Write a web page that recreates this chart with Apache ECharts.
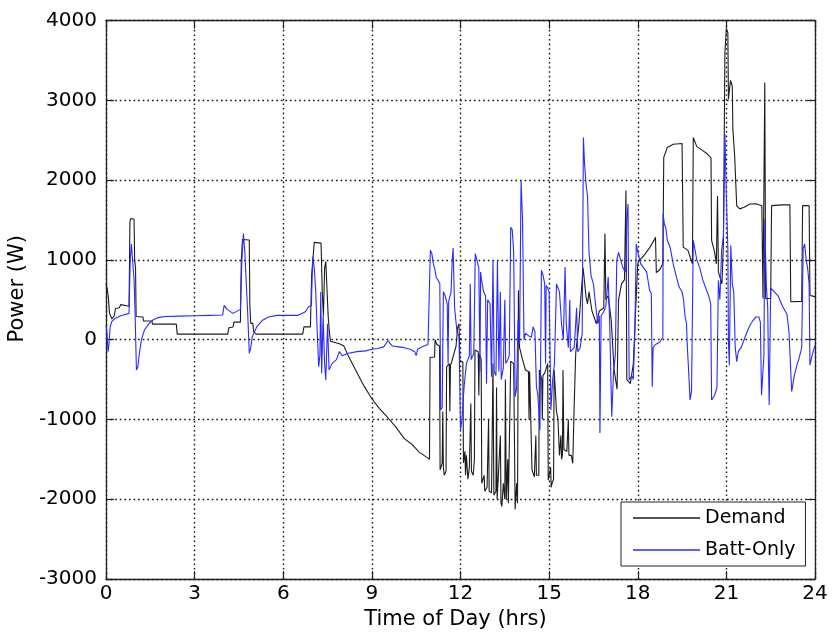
<!DOCTYPE html>
<html>
<head>
<meta charset="utf-8">
<script src="https://cdn.jsdelivr.net/npm/echarts@6/dist/echarts.min.js"></script>
<style>
html,body{margin:0;padding:0;background:#fff;}
#chart{width:839px;height:635px;}
</style>
</head>
<body>
<div id="chart"></div>
<script>
// ---- Data (time of day in hours, power in W) ----
const seriesNames = ['Demand', 'Batt-Only'];
const xTicks = [0, 3, 6, 9, 12, 15, 18, 21, 24];
const yTicks = [-3000, -2000, -1000, 0, 1000, 2000, 3000, 4000];

const demand = [
[0,700],[0.04,640],[0.08,530],[0.12,330],[0.2,260],[0.28,300],[0.32,390],[0.45,400],[0.5,440],[0.78,420],
[0.81,1480],[0.84,1520],[0.95,1510],[0.97,1000],[1.0,900],[1.02,290],[1.25,285],[1.27,235],[1.55,235],[1.58,195],
[2.38,195],[2.41,70],[4.12,70],[4.16,150],[4.3,160],[4.33,220],[4.55,220],[4.58,1000],[4.62,1255],[4.85,1250],
[4.87,420],[4.9,205],[4.97,205],[5.0,100],[5.08,70],[6.66,70],[6.7,160],[6.92,160],[6.96,800],[7.05,1220],
[7.28,1210],[7.32,600],[7.36,300],[7.4,900],[7.44,980],[7.48,980],[7.52,300],[7.56,100],[7.6,-20],[7.9,-50],
[8.05,-80],[8.2,-200],[8.45,-380],[8.7,-560],[9.0,-740],[9.25,-860],[9.5,-960],[9.8,-1090],[10.1,-1240],[10.35,-1310],
[10.6,-1410],[10.8,-1460],[10.95,-1500],[10.97,-220],[11.12,-220],[11.14,0],[11.2,-60],[11.29,-80],[11.31,-1630],[11.38,-1550],
[11.4,-900],[11.42,-1600],[11.45,-1700],[11.51,-1650],[11.53,-340],[11.62,-300],[11.64,-900],[11.66,-320],[11.7,-280],[11.85,-80],
[11.9,150],[11.95,200],[11.98,-260],[12.08,-280],[12.1,-1545],[12.15,-1400],[12.17,-1700],[12.2,-1450],[12.25,-1750],[12.3,-1600],
[12.35,-800],[12.37,-1650],[12.43,-1700],[12.47,-1500],[12.49,-130],[12.6,-150],[12.62,-700],[12.64,-180],[12.7,-250],[12.72,-1800],
[12.8,-1700],[12.82,-1900],[12.9,-1850],[12.95,-1000],[12.97,-1900],[13.05,-1920],[13.1,-300],[13.13,-1950],[13.2,-1900],[13.22,-600],
[13.24,-2000],[13.3,-2000],[13.35,-1200],[13.37,-2050],[13.4,-2090],[13.45,-1800],[13.5,-2000],[13.52,-500],[13.55,-2000],[13.6,-1500],
[13.62,-2050],[13.68,-2050],[13.7,-270],[13.8,-300],[13.85,-2125],[13.9,-1800],[13.93,-2050],[13.96,620],[14.0,-100],[14.1,-250],
[14.2,-380],[14.3,-400],[14.32,-1000],[14.34,-400],[14.4,-380],[14.42,-1630],[14.5,-1720],[14.55,-1200],[14.57,-1700],[14.65,-1700],
[14.67,-380],[14.75,-500],[14.77,-1000],[14.79,-450],[14.85,-420],[14.95,-300],[14.97,-1760],[15.05,-1600],[15.07,-1850],[15.1,-1800],
[15.15,-1750],[15.17,-380],[15.25,-900],[15.3,-1000],[15.35,-1450],[15.4,-1200],[15.42,-1500],[15.45,-1450],[15.47,-380],[15.5,-1380],
[15.6,-1400],[15.65,-1000],[15.67,-1450],[15.75,-1450],[15.8,-1550],[15.85,-800],[15.9,-170],[16.0,160],[16.1,660],[16.15,900],
[16.25,535],[16.3,450],[16.35,600],[16.45,360],[16.6,200],[16.7,360],[16.85,400],[16.89,1330],[16.92,500],[17.0,550],
[17.1,250],[17.2,-380],[17.3,-620],[17.35,500],[17.45,700],[17.55,750],[17.6,1870],[17.63,-500],[17.75,-550],[17.85,-300],
[17.92,300],[18.0,950],[18.05,995],[18.2,1050],[18.4,1150],[18.55,1245],[18.6,1285],[18.63,840],[18.75,880],[18.85,955],
[18.88,2285],[19.0,2410],[19.2,2450],[19.5,2460],[19.54,1160],[19.7,1120],[19.85,950],[19.88,2535],[20.0,2420],[20.2,2370],
[20.35,2330],[20.48,2280],[20.5,1245],[20.6,1100],[20.66,950],[20.7,1800],[20.73,850],[20.85,700],[20.9,1200],[20.95,3600],
[21.0,3900],[21.05,3850],[21.07,3015],[21.12,3000],[21.14,3250],[21.2,3180],[21.22,2640],[21.28,2305],[21.35,1680],[21.45,1640],
[21.6,1660],[21.8,1700],[22.0,1705],[22.2,1680],[22.24,515],[22.28,515],[22.3,3225],[22.33,515],[22.5,520],[22.53,1680],
[22.9,1690],[23.15,1690],[23.18,475],[23.55,480],[23.58,1680],[23.8,1680],[23.83,555],[24,540]
];

const battOnly = [
[0,180],[0.03,100],[0.07,-150],[0.1,-60],[0.14,160],[0.2,230],[0.3,265],[0.5,300],[0.78,330],[0.82,1000],
[0.86,1200],[0.9,1000],[0.95,745],[0.98,400],[1.03,-380],[1.08,-340],[1.13,-170],[1.2,0],[1.3,120],[1.45,200],
[1.6,250],[1.8,280],[2.0,290],[2.5,295],[3.0,300],[3.5,305],[3.95,310],[4.0,430],[4.1,380],[4.3,330],
[4.55,380],[4.6,1000],[4.65,1330],[4.7,1100],[4.75,700],[4.8,300],[4.85,-170],[4.9,-100],[4.95,35],[5.1,160],
[5.3,245],[5.5,285],[5.8,305],[6.5,305],[6.75,350],[6.85,410],[6.95,430],[7.0,1035],[7.05,900],[7.1,600],
[7.15,100],[7.2,-340],[7.24,-200],[7.27,600],[7.3,-420],[7.35,300],[7.4,-300],[7.44,-505],[7.5,200],[7.55,-380],
[7.65,-300],[7.8,-250],[7.9,-150],[8.0,-200],[8.2,-170],[8.5,-150],[8.8,-140],[9.0,-120],[9.2,-110],[9.4,-90],
[9.55,-10],[9.6,-40],[9.7,-80],[9.9,-90],[10.1,-100],[10.3,-120],[10.45,-150],[10.5,-200],[10.55,-120],[10.7,-90],
[10.9,-60],[10.96,-50],[10.98,1120],[11.03,1080],[11.08,950],[11.12,900],[11.18,780],[11.25,740],[11.3,700],[11.33,-880],
[11.38,-850],[11.42,600],[11.48,550],[11.55,450],[11.58,-300],[11.6,480],[11.68,600],[11.72,1000],[11.75,1150],[11.8,400],
[11.88,100],[11.95,35],[12.0,-1130],[12.05,-1000],[12.12,-600],[12.2,-300],[12.3,-200],[12.33,700],[12.36,-250],[12.45,-170],
[12.5,1080],[12.55,1100],[12.62,900],[12.66,-400],[12.68,850],[12.7,780],[12.78,600],[12.85,550],[12.88,-550],[12.92,500],
[13.0,450],[13.05,-465],[13.1,995],[13.14,-400],[13.2,-450],[13.25,995],[13.3,-400],[13.35,600],[13.38,-500],[13.45,-350],
[13.5,500],[13.53,-300],[13.6,-250],[13.65,-200],[13.7,1410],[13.75,1380],[13.8,1100],[13.85,-715],[13.9,-600],[13.95,250],
[14.0,-50],[14.05,1995],[14.1,1500],[14.15,0],[14.2,80],[14.3,50],[14.4,30],[14.46,160],[14.52,100],[14.57,-590],
[14.62,-700],[14.69,-1130],[14.74,870],[14.8,800],[14.85,700],[14.88,-300],[14.9,680],[14.95,650],[15.0,600],[15.06,-880],
[15.12,-500],[15.18,-300],[15.25,700],[15.3,650],[15.35,600],[15.42,200],[15.48,0],[15.54,910],[15.58,200],[15.65,-100],
[15.7,500],[15.72,-150],[15.75,-150],[15.85,-100],[15.93,400],[15.97,-150],[16.05,-100],[16.12,80],[16.16,2535],[16.2,2200],
[16.25,1950],[16.3,1800],[16.35,1100],[16.42,800],[16.5,700],[16.58,410],[16.65,200],[16.7,300],[16.72,-1170],[16.76,300],
[16.85,350],[16.92,420],[17.0,785],[17.05,200],[17.12,-965],[17.18,-400],[17.24,-200],[17.29,995],[17.35,1095],[17.42,1000],
[17.5,900],[17.58,850],[17.6,900],[17.63,1500],[17.67,1700],[17.71,-505],[17.8,-450],[17.85,-500],[17.9,80],[17.95,1200],
[18.0,1100],[18.1,950],[18.2,900],[18.3,850],[18.4,620],[18.46,580],[18.49,-590],[18.52,-100],[18.6,-60],[18.75,-30],
[18.85,30],[18.86,1575],[18.9,1450],[18.95,1400],[19.0,1250],[19.1,1150],[19.2,950],[19.3,800],[19.4,660],[19.5,600],
[19.55,500],[19.6,300],[19.65,200],[19.68,-100],[19.71,-300],[19.77,-755],[19.82,-650],[19.88,1245],[19.95,1100],[20.0,1000],
[20.1,900],[20.2,750],[20.3,650],[20.4,550],[20.47,450],[20.5,-755],[20.6,-700],[20.68,-600],[20.73,745],[20.78,500],
[20.84,1120],[20.9,1300],[20.95,2575],[21.0,1800],[21.05,1140],[21.07,-25],[21.1,-320],[21.15,1180],[21.2,700],[21.25,600],
[21.3,-100],[21.35,-275],[21.4,-150],[21.5,-100],[21.6,0],[21.7,100],[21.8,180],[21.9,240],[22.0,285],[22.1,285],
[22.15,220],[22.19,-695],[22.22,-720],[22.27,-200],[22.3,1515],[22.35,700],[22.4,400],[22.42,-200],[22.45,-820],[22.5,650],
[22.6,610],[22.75,550],[22.9,420],[23.05,320],[23.12,100],[23.21,-650],[23.3,-450],[23.4,-300],[23.45,-250],[23.55,-100],
[23.6,1140],[23.65,1200],[23.7,1000],[23.75,900],[23.8,700],[23.83,-320],[23.9,-200],[24,-70]
];

// ---- Chart ----
const FONT = 'DejaVu Sans';
const chart = echarts.init(document.getElementById('chart'), null, {renderer: 'canvas'});
const gridDash = [1.6, 3];
const plainNum = v => String(v);
const baseAxisX = {
  type: 'value', min: xTicks[0], max: xTicks[xTicks.length - 1], interval: 3,
  axisLine: {show: true, onZero: false, lineStyle: {color: '#222', width: 1.3}},
  axisTick: {show: true, inside: true, length: 8, lineStyle: {color: '#222', width: 1.2}},
};
const baseAxisY = {
  type: 'value', min: yTicks[0], max: yTicks[yTicks.length - 1], interval: 1000,
  axisLine: {show: true, onZero: false, lineStyle: {color: '#222', width: 1.3}},
  axisTick: {show: true, inside: true, length: 8, lineStyle: {color: '#222', width: 1.2}},
};
chart.setOption({
  animation: false,
  backgroundColor: '#fff',
  grid: {left: 106, right: 24, top: 20.6, bottom: 56, containLabel: false, outerBoundsMode: 'none'},
  legend: {
    data: seriesNames,
    orient: 'vertical',
    left: 621, top: 502,
    backgroundColor: '#fff',
    borderColor: '#222', borderWidth: 1, borderRadius: 0,
    padding: [6, 10, 6, 12],
    icon: 'rect',
    itemWidth: 67, itemHeight: 1.4, itemGap: 12,
    textStyle: {fontFamily: FONT, fontSize: 19, color: '#000', lineHeight: 20}
  },
  xAxis: [
    Object.assign({}, baseAxisX, {
      position: 'bottom',
      name: 'Time of Day (hrs)', nameLocation: 'middle', nameGap: 30,
      nameTextStyle: {fontFamily: FONT, fontSize: 21, color: '#000', padding: [0, 10, 0, 0]},
      axisLabel: {fontFamily: FONT, fontSize: 20, color: '#000', margin: 5, formatter: plainNum},
      splitLine: {show: true, lineStyle: {color: '#111', type: gridDash, width: 1.4}}
    }),
    Object.assign({}, baseAxisX, {position: 'top', axisLabel: {show: false}, splitLine: {show: false}})
  ],
  yAxis: [
    Object.assign({}, baseAxisY, {
      position: 'left',
      name: 'Power (W)', nameLocation: 'middle', nameGap: 70,
      nameTextStyle: {fontFamily: FONT, fontSize: 21, color: '#000', padding: [0, 0, 0, 22]},
      axisLabel: {fontFamily: FONT, fontSize: 20, color: '#000', margin: 9, formatter: plainNum},
      splitLine: {show: true, lineStyle: {color: '#111', type: gridDash, width: 1.4}}
    }),
    Object.assign({}, baseAxisY, {position: 'right', axisLabel: {show: false}, splitLine: {show: false}})
  ],
  series: [
    {
      name: seriesNames[0], type: 'line', data: demand,
      xAxisIndex: 0, yAxisIndex: 0,
      symbol: 'none', showSymbol: false, smooth: false,
      lineStyle: {color: '#1c1c1c', width: 1.1},
      itemStyle: {color: '#1c1c1c'},
      z: 2
    },
    {
      name: seriesNames[1], type: 'line', data: battOnly,
      xAxisIndex: 0, yAxisIndex: 0,
      symbol: 'none', showSymbol: false, smooth: false,
      lineStyle: {color: '#2a2aff', width: 1.1},
      itemStyle: {color: '#2a2aff'},
      z: 3
    }
  ]
});
</script>
</body>
</html>
